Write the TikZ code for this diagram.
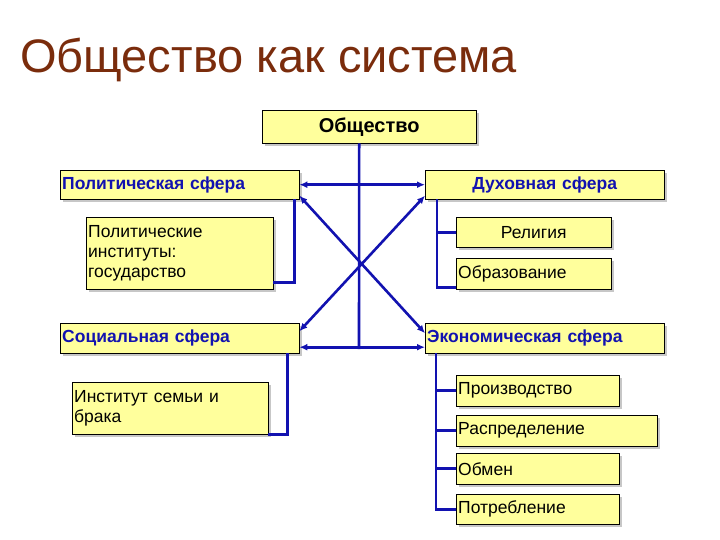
\documentclass[tikz,border=0pt]{standalone}
\usepackage{fontspec}
\setmainfont{Liberation Sans}
\usetikzlibrary{arrows.meta,calc,shadows}
\usepackage{xcolor}
\definecolor{boxfill}{HTML}{FFFF9C}
\definecolor{linkblue}{HTML}{1212B0}
\definecolor{titlebrown}{HTML}{7A2C0C}

\tikzset{
  box/.style={draw=black,fill=boxfill,anchor=north west,inner xsep=2pt,inner ysep=1pt,
    font=\fontsize{17.5}{20}\selectfont,
    drop shadow={shadow xshift=2.5pt,shadow yshift=-2.5pt,fill=black!22,opacity=1}},
  sphere/.style={box,font=\fontsize{17.5}{20}\selectfont\bfseries,text=linkblue},
  link/.style={draw=linkblue,line width=2.6pt},
  dbl/.style={link,{Latex[length=8pt,width=7pt]}-{Latex[length=8pt,width=7pt]}}
}

\begin{document}
\begin{tikzpicture}[x=1pt,y=-1pt]
\useasboundingbox[fill=white] (0,0) rectangle (720,540);

\node[anchor=base west,text=titlebrown,font=\fontsize{47}{52}\selectfont,inner sep=0pt] (title) at (20,73) {Общество как система};

\node[box,font=\fontsize{20}{22}\selectfont\bfseries,minimum width=214pt,minimum height=33pt] (soc) at (262,110) {Общество};

\node[sphere,minimum width=239pt,minimum height=29pt,text width=235pt,align=left] (pol) at (60,170) {Политическая сфера};
\node[sphere,minimum width=239pt,minimum height=29pt,text width=235pt,align=center] (dukh) at (425,170) {Духовная сфера};
\node[sphere,minimum width=239pt,minimum height=30pt,text width=235pt,align=left] (socs) at (60,323) {Социальная сфера};
\node[sphere,minimum width=239pt,minimum height=30pt,text width=235pt,align=left] (econ) at (425,323) {Экономическая сфера};

\node[box,minimum height=72pt,text width=183pt,align=left] (polinst) at (86,217) {Политические\\институты:\\государство};
\node[box,minimum height=52pt,text width=192pt,align=left] (sem) at (72,382) {Институт семьи и\\брака};

\node[box,minimum height=30pt,text width=151pt,align=center] (rel) at (456,217) {Религия};
\node[box,minimum height=31pt,text width=151pt,align=left] (obr) at (456,258) {Образование};

\node[box,minimum height=31pt,text width=159pt,align=left] (proizv) at (456,375) {Производство};
\node[box,minimum height=31pt,text width=197pt,align=left] (raspr) at (456,415) {Распределение};
\node[box,minimum height=31pt,text width=159pt,align=left] (obmen) at (456,453) {Обмен};
\node[box,minimum height=30pt,text width=159pt,align=left] (potr) at (456,494) {Потребление};

% trunk and links between spheres
\coordinate (trunk) at (359,349);
\draw[link] ([xshift=-10pt]soc.south) -- (trunk);
\draw[dbl] (pol.east) -- (dukh.west);
\draw[dbl] ([yshift=-9pt]socs.east) -- ([yshift=-9pt]econ.west);
\draw[dbl] ([yshift=-11pt]pol.east) -- ([yshift=5pt]econ.west);
\draw[dbl] ([yshift=-11pt]dukh.west) -- ([yshift=7pt]socs.east);

% inner links
\draw[link] ([xshift=-5pt]pol.south east) |- ([yshift=7pt]polinst.south east);
\draw[link] ([xshift=-12pt]socs.south east) |- (sem.south east);
\draw[link] ([xshift=12pt]dukh.south west) |- (rel.west);
\draw[link] ([xshift=12pt]dukh.south west) |- ([yshift=2pt]obr.south west);
\foreach \n in {proizv,raspr,obmen,potr}
  \draw[link] ([xshift=11pt]econ.south west) |- (\n.west);
\end{tikzpicture}
\end{document}
